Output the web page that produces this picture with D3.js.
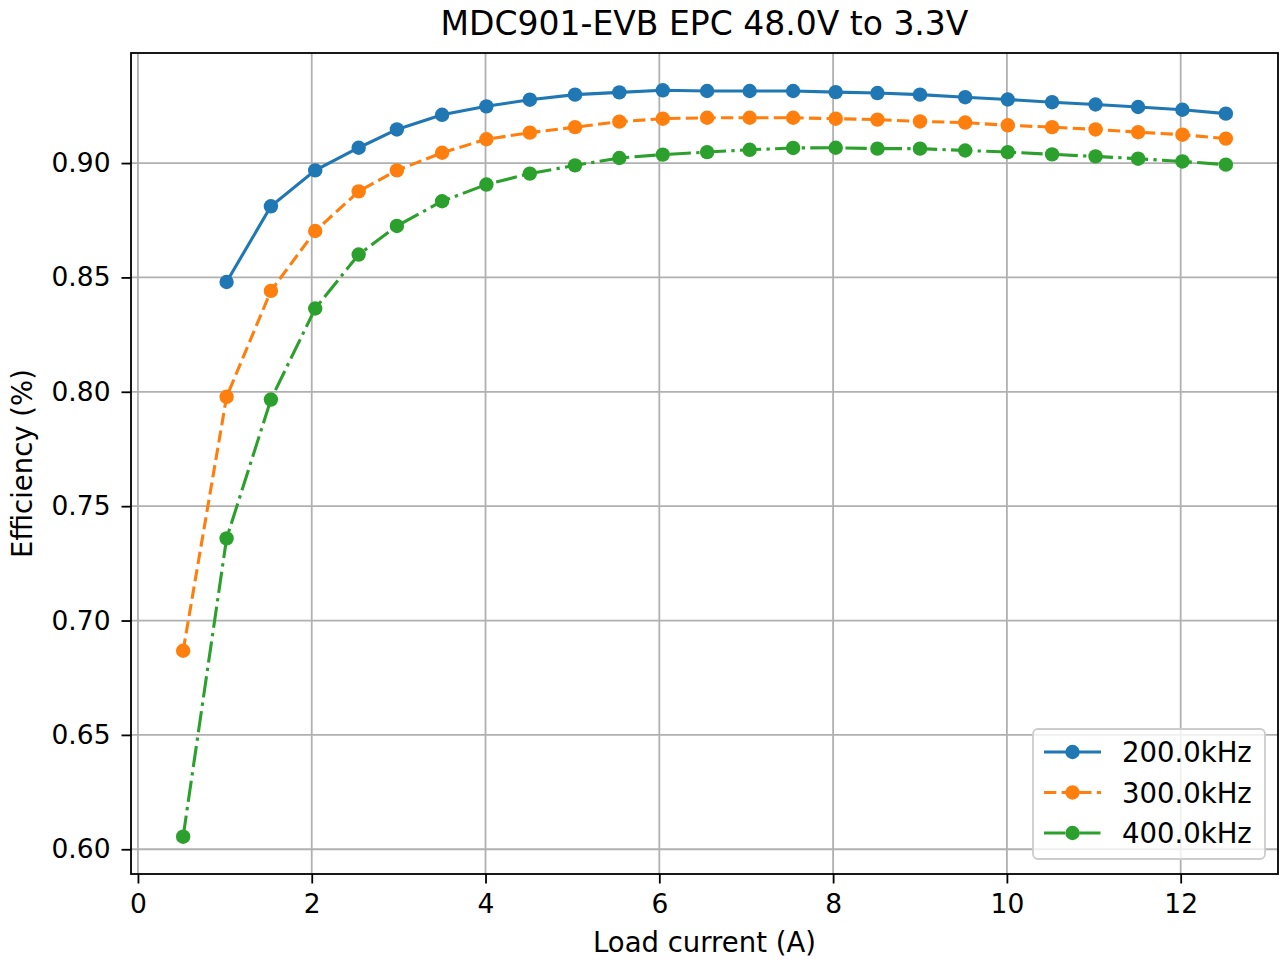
<!DOCTYPE html>
<html>
<head>
<meta charset="utf-8">
<script src="https://cdn.jsdelivr.net/npm/d3@7"></script>
<style>
  body { margin: 0; background: #fff; }
  svg text { font-family: "DejaVu Sans", sans-serif; fill: #000; }
</style>
</head>
<body>
<div id="chart"></div>
<script>
// load current (A), measured points
var loadCurrent = [0.52, 1.02, 1.53, 2.04, 2.54, 2.98, 3.50, 4.01, 4.51, 5.03, 5.54, 6.04, 6.55,
                   7.04, 7.54, 8.03, 8.51, 9.00, 9.52, 10.01, 10.52, 11.02, 11.51, 12.02, 12.52];

// efficiency per switching frequency (200k has no point at the lowest load)
var eff200 = [null, 0.848, 0.8811, 0.8968, 0.9067, 0.9147, 0.9211, 0.9248, 0.9277, 0.9299, 0.9309, 0.9318, 0.9315,
              0.9315, 0.9315, 0.9310, 0.9306, 0.9299, 0.9288, 0.9278, 0.9266, 0.9256, 0.9245, 0.9233, 0.9216];
var eff300 = [0.6868, 0.7978, 0.8441, 0.8703, 0.8876, 0.8968, 0.9045, 0.9104, 0.9133, 0.9157, 0.9181, 0.9194, 0.9198,
              0.9198, 0.9198, 0.9194, 0.9190, 0.9182, 0.9177, 0.9165, 0.9157, 0.9147, 0.9135, 0.9124, 0.9107];
var eff400 = [0.6055, 0.7359, 0.7966, 0.8364, 0.8600, 0.8725, 0.8833, 0.8906, 0.8954, 0.8990, 0.9022, 0.9037, 0.9048,
              0.9058, 0.9066, 0.9067, 0.9063, 0.9063, 0.9055, 0.9048, 0.9038, 0.9029, 0.9019, 0.9007, 0.8993];

var seriesNames = ["200.0kHz", "300.0kHz", "400.0kHz"];
var xTicks = [0, 2, 4, 6, 8, 10, 12];
var yTicks = [0.60, 0.65, 0.70, 0.75, 0.80, 0.85, 0.90];

var colors = ["#1f77b4", "#ff7f0e", "#2ca02c"];
var dashes = [null, "12.3,5.3", "21.3,5.3,3.3,5.3"];

var svgWidth = 1280, svgHeight = 961;
var margin = { top: 53, right: 2, bottom: 87, left: 131 };
var chartWidth = svgWidth - margin.left - margin.right;
var chartHeight = svgHeight - margin.top - margin.bottom;

var svg = d3.select("#chart").append("svg")
    .attr("width", svgWidth)
    .attr("height", svgHeight);

var chartGroup = svg.append("g")
    .attr("transform", `translate(${margin.left}, ${margin.top})`);

// matplotlib-style 5% padding
var allY = eff200.concat(eff300, eff400).filter(d => d != null);
var xMin = d3.min(loadCurrent), xMax = d3.max(loadCurrent);
var yMin = d3.min(allY), yMax = d3.max(allY);
var xPad = (xMax - xMin) * 0.05, yPad = (yMax - yMin) * 0.05;

var xScale = d3.scaleLinear()
    .domain([xMin - xPad, xMax + xPad])
    .range([0, chartWidth]);

var yScale = d3.scaleLinear()
    .domain([yMin - yPad, yMax + yPad])
    .range([chartHeight, 0]);

// grid
chartGroup.append("g")
    .selectAll("line").data(xTicks).enter().append("line")
    .attr("x1", d => xScale(d)).attr("x2", d => xScale(d))
    .attr("y1", 0).attr("y2", chartHeight)
    .attr("stroke", "#b0b0b0").attr("stroke-width", 1.8);

chartGroup.append("g")
    .selectAll("line").data(yTicks).enter().append("line")
    .attr("y1", d => yScale(d)).attr("y2", d => yScale(d))
    .attr("x1", 0).attr("x2", chartWidth)
    .attr("stroke", "#b0b0b0").attr("stroke-width", 1.8);

// axes
var xAxis = d3.axisBottom(xScale).tickValues(xTicks).tickSize(9.5).tickPadding(11).tickFormat(d3.format("d"));
var yAxis = d3.axisLeft(yScale).tickValues(yTicks).tickSize(9.5).tickPadding(11).tickFormat(d3.format(".2f"));

var gx = chartGroup.append("g")
    .attr("transform", `translate(0, ${chartHeight})`)
    .call(xAxis);
var gy = chartGroup.append("g").call(yAxis);

[gx, gy].forEach(function(g) {
    g.select(".domain").remove();
    g.selectAll(".tick line").attr("stroke", "#000").attr("stroke-width", 1.8);
    g.selectAll(".tick text").attr("font-size", 26.5).style("font-family", "DejaVu Sans, sans-serif");
});

// lines + markers
var allSeries = [eff200, eff300, eff400];

allSeries.forEach(function(vals, i) {
    var pts = loadCurrent.map((x, j) => ({ x: x, y: vals[j] })).filter(d => d.y != null);

    var line = d3.line()
        .x(d => xScale(d.x))
        .y(d => yScale(d.y));

    chartGroup.append("path")
        .datum(pts)
        .attr("d", line)
        .attr("fill", "none")
        .attr("stroke", colors[i])
        .attr("stroke-width", 3.1)
        .attr("stroke-dasharray", dashes[i]);

    chartGroup.selectAll(".dot" + i)
        .data(pts)
        .enter()
        .append("circle")
        .attr("class", "dot" + i)
        .attr("cx", d => xScale(d.x))
        .attr("cy", d => yScale(d.y))
        .attr("r", 7.2)
        .attr("fill", colors[i]);
});

// frame
chartGroup.append("rect")
    .attr("width", chartWidth).attr("height", chartHeight)
    .attr("fill", "none").attr("stroke", "#000").attr("stroke-width", 1.8);

// legend
var legend = chartGroup.append("g")
    .attr("transform", `translate(${chartWidth - 245}, ${chartHeight - 145})`);

legend.append("rect")
    .attr("width", 232).attr("height", 130)
    .attr("rx", 5).attr("ry", 5)
    .attr("fill", "rgba(255,255,255,0.8)")
    .attr("stroke", "#cccccc").attr("stroke-width", 1.8);

seriesNames.forEach(function(name, i) {
    var ly = 23 + i * 40.5;
    legend.append("line")
        .attr("x1", 11).attr("x2", 68)
        .attr("y1", ly).attr("y2", ly)
        .attr("stroke", colors[i]).attr("stroke-width", 3.1)
        .attr("stroke-dasharray", dashes[i]);
    legend.append("circle")
        .attr("cx", 39.5).attr("cy", ly).attr("r", 7.2)
        .attr("fill", colors[i]);
    legend.append("text")
        .attr("x", 89).attr("y", ly + 10)
        .attr("font-size", 27.5)
        .text(name);
});

// titles
svg.append("text")
    .attr("x", margin.left + chartWidth / 2)
    .attr("y", 35)
    .attr("text-anchor", "middle")
    .attr("font-size", 33)
    .text("MDC901-EVB EPC 48.0V to 3.3V");

svg.append("text")
    .attr("x", margin.left + chartWidth / 2)
    .attr("y", 952)
    .attr("text-anchor", "middle")
    .attr("font-size", 27.5)
    .text("Load current (A)");

svg.append("text")
    .attr("transform", `translate(32, ${margin.top + chartHeight / 2}) rotate(-90)`)
    .attr("text-anchor", "middle")
    .attr("font-size", 27.5)
    .text("Efficiency (%)");
</script>
</body>
</html>
